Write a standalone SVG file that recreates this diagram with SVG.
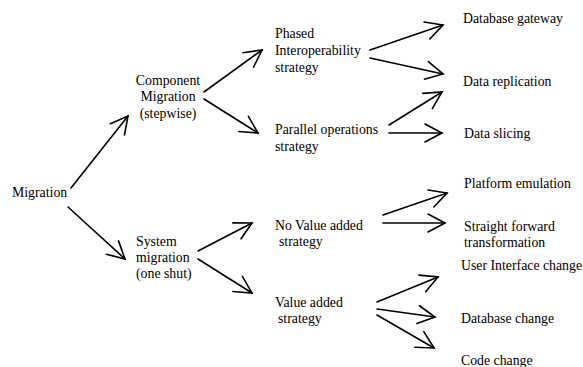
<svg xmlns="http://www.w3.org/2000/svg" width="583" height="367" viewBox="0 0 583 367">
<defs>
<marker id="ah" markerUnits="userSpaceOnUse" markerWidth="24" markerHeight="24" refX="20" refY="12" orient="auto" overflow="visible">
<path d="M3,3 L20,12 L3,21" fill="none" stroke="#000" stroke-width="1.6" stroke-linecap="round" stroke-linejoin="miter"/>
</marker>
<style>
text{font-family:"Liberation Serif","DejaVu Serif","Times New Roman",serif;font-size:13.8px;fill:#000}
.c{text-anchor:middle}
.conn line{stroke:#000;stroke-width:1.6;fill:none;marker-end:url(#ah);stroke-linecap:round}
</style>
</defs>
<rect width="583" height="367" fill="#fff"/>
<g id="migration" font-family="Liberation Serif, serif"><text x="12" y="197">Migration</text></g>
<g id="component" font-family="Liberation Serif, serif"><text class="c" x="168" y="85">Component</text><text class="c" x="168" y="101">Migration</text><text class="c" x="168" y="118">(stepwise)</text></g>
<g id="system" font-family="Liberation Serif, serif"><text x="136" y="246">System</text><text x="136" y="262">migration</text><text x="136" y="278">(one shut)</text></g>
<g id="phased" font-family="Liberation Serif, serif"><text x="275" y="38">Phased</text><text x="275" y="55">Interoperability</text><text x="275" y="72">strategy</text></g>
<g id="parallel" font-family="Liberation Serif, serif"><text x="275" y="134">Parallel operations</text><text x="275" y="151">strategy</text></g>
<g id="novalue" font-family="Liberation Serif, serif"><text x="275" y="230">No Value added</text><text x="279" y="246">strategy</text></g>
<g id="value" font-family="Liberation Serif, serif"><text x="275" y="307">Value added</text><text x="278" y="323">strategy</text></g>
<g id="dbgateway" font-family="Liberation Serif, serif"><text x="463" y="23">Database gateway</text></g>
<g id="replication" font-family="Liberation Serif, serif"><text x="463" y="86">Data replication</text></g>
<g id="slicing" font-family="Liberation Serif, serif"><text x="464" y="138">Data slicing</text></g>
<g id="platform" font-family="Liberation Serif, serif"><text x="464" y="188">Platform emulation</text></g>
<g id="straight" font-family="Liberation Serif, serif"><text x="464" y="231">Straight forward</text><text x="464" y="247">transformation</text></g>
<g id="ui" font-family="Liberation Serif, serif"><text x="461" y="270">User Interface change</text></g>
<g id="dbchange" font-family="Liberation Serif, serif"><text x="461" y="323">Database change</text></g>
<g id="code" font-family="Liberation Serif, serif"><text x="461" y="365">Code change</text></g>
<g class="conn" id="connectors">
<line x1="71" y1="188" x2="128" y2="116"/>
<line x1="68" y1="207" x2="125" y2="259"/>
<line x1="204" y1="92" x2="262" y2="50"/>
<line x1="204" y1="99" x2="258" y2="133"/>
<line x1="370" y1="50" x2="443" y2="25"/>
<line x1="370" y1="58" x2="443" y2="74"/>
<line x1="389" y1="125" x2="442" y2="92"/>
<line x1="389" y1="133" x2="442" y2="133"/>
<line x1="198" y1="251" x2="252" y2="223"/>
<line x1="198" y1="259" x2="252" y2="293"/>
<line x1="383" y1="215" x2="447" y2="193"/>
<line x1="383" y1="223" x2="445" y2="223"/>
<line x1="377" y1="302" x2="438" y2="277"/>
<line x1="377" y1="309" x2="435" y2="317"/>
<line x1="377" y1="315" x2="434" y2="348"/>
</g>
</svg>
